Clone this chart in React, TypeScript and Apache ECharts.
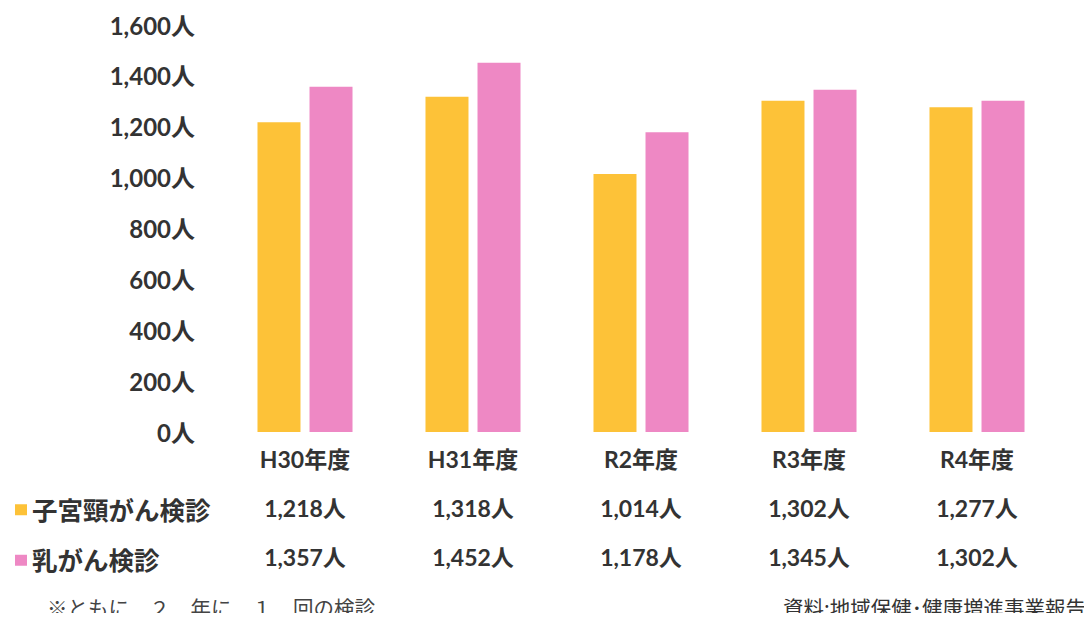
import React, { useEffect, useRef } from "react";
import * as echarts from "echarts";

const categories = ["H30年度", "H31年度", "R2年度", "R3年度", "R4年度"];
const cervical = [1218, 1318, 1014, 1302, 1277];
const breast = [1357, 1452, 1178, 1345, 1302];
const seriesNames = ["子宮頸がん検診", "乳がん検診"];
const yMax = 1600;
const yInterval = 200;
const noteLeft = "※ともに　２　年に　１　回の検診";
const noteRight = "資料:地域保健･健康増進事業報告";

const fmt = (v: number) => String(v).replace(/\B(?=(\d{3})+(?!\d))/g, ",") + "人";

const FONT = "Lato, 'Noto Sans CJK JP', sans-serif";
const TEXT = "#333333";

export default function App() {
  const ref = useRef<HTMLDivElement>(null);
  useEffect(() => {
    if (!ref.current) return;
    const chart = echarts.init(ref.current, undefined, { renderer: "svg" });
    const labelStyle = { color: TEXT, fontFamily: FONT, fontWeight: "bold" as const, fontSize: 23 };
    const rowAxis = (data: string[], offset: number) => ({
      type: "category" as const,
      data,
      position: "bottom" as const,
      offset,
      axisLine: { show: false },
      axisTick: { show: false },
      axisLabel: { ...labelStyle, margin: 15 },
    });
    chart.setOption({
      animation: false,
      backgroundColor: "#ffffff",
      grid: { left: 221, right: 31, top: 25, bottom: 189, containLabel: false },
      legend: {
        orient: "vertical",
        left: 10,
        top: 492,
        icon: "rect",
        itemWidth: 12,
        itemHeight: 11,
        itemGap: 25,
        data: seriesNames,
        textStyle: { color: TEXT, fontFamily: FONT, fontWeight: "bold", fontSize: 25.5 },
      },
      xAxis: [
        rowAxis(categories, 0),
        rowAxis(cervical.map(fmt), 49),
        rowAxis(breast.map(fmt), 98),
      ],
      yAxis: {
        type: "value",
        min: 0,
        max: yMax,
        interval: yInterval,
        axisLine: { show: false },
        axisTick: { show: false },
        splitLine: { show: false },
        axisLabel: { ...labelStyle, fontSize: 24, margin: 26, formatter: (v: number) => fmt(v) },
      },
      series: [
        {
          name: seriesNames[0],
          type: "bar",
          xAxisIndex: 0,
          data: cervical,
          barWidth: 43,
          barGap: "21%",
          itemStyle: { color: "#FDC238" },
        },
        {
          name: seriesNames[1],
          type: "bar",
          xAxisIndex: 0,
          data: breast,
          barWidth: 43,
          barGap: "21%",
          itemStyle: { color: "#EE88C4" },
        },
      ],
      graphic: [
        {
          type: "text",
          left: 47,
          top: 597,
          style: {
            text: noteLeft,
            fill: "#444444",
            font: "normal 20.5px 'Noto Sans CJK JP', serif",
          },
        },
        {
          type: "text",
          left: 783,
          top: 597,
          style: {
            text: noteRight,
            fill: "#333333",
            font: "normal 20.5px 'Noto Sans CJK JP', sans-serif",
          },
        },
      ],
    });
    return () => chart.dispose();
  }, []);
  return <div ref={ref} style={{ width: 1092, height: 621, margin: -8 }} />;
}
